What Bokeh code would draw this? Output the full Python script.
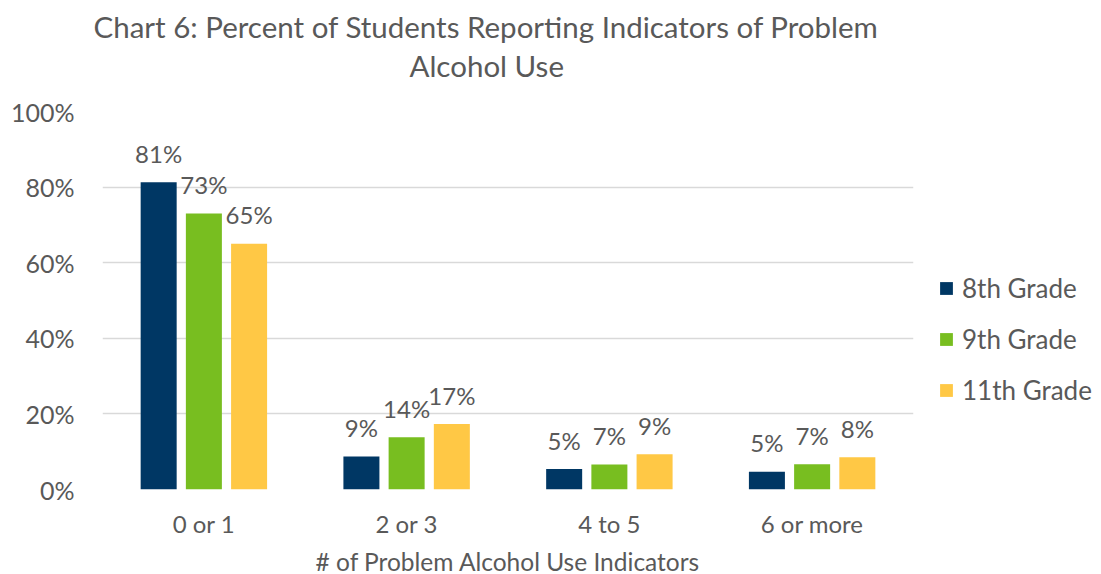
from bokeh.plotting import figure
from bokeh.models import ColumnDataSource, FactorRange, Legend, LegendItem, Title, FixedTicker, CustomJSTickFormatter
from bokeh.transform import dodge
from bokeh.core.properties import value
from bokeh.embed import file_html
from bokeh.resources import INLINE

categories = ["0 or 1", "2 or 3", "4 to 5", "6 or more"]
series = ["8th Grade", "9th Grade", "11th Grade"]
grade8 = [81.3, 8.7, 5.4, 4.7]
grade9 = [73.0, 13.8, 6.6, 6.7]
grade11 = [65.0, 17.3, 9.3, 8.5]
y_ticks = [0, 20, 40, 60, 80, 100]
colors = ["#003764", "#78BE20", "#FFC845"]
title_lines = ["Chart 6: Percent of Students Reporting Indicators of Problem", "Alcohol Use"]
x_title = "# of Problem Alcohol Use Indicators"

FONT = "Lato"
TXT = "#595959"

src = ColumnDataSource(dict(
    cat=categories, g8=grade8, g9=grade9, g11=grade11,
    l8=[f"{round(v)}%" for v in grade8],
    l9=[f"{round(v)}%" for v in grade9],
    l11=[f"{round(v)}%" for v in grade11],
))

p = figure(frame_width=811, frame_height=378, x_range=FactorRange(*categories), y_range=(0, 100),
           output_backend="svg", toolbar_location=None, title=None,
           min_border_left=102, min_border_right=188, min_border_top=111, min_border_bottom=85)
p.outline_line_color = None
p.background_fill_color = "white"

offsets = [-0.223, 0.0, 0.223]
keys = ["g8", "g9", "g11"]
lkeys = ["l8", "l9", "l11"]
items = []
for k, lk, off, c, name in zip(keys, lkeys, offsets, colors, series):
    r = p.vbar(x=dodge("cat", off, range=p.x_range), top=k, width=0.1776, source=src,
               fill_color=c, line_color=None)
    p.text(x=dodge("cat", off, range=p.x_range), y=k, text=lk, source=src,
           text_align="center", text_baseline="alphabetic", y_offset=-29,
           text_font=value(FONT), text_font_size="24px", text_color=TXT)
    items.append(LegendItem(label=name, renderers=[r]))

p.ygrid.ticker = FixedTicker(ticks=y_ticks)
p.ygrid.grid_line_color = "#D9D9D9"
p.ygrid.grid_line_width = 1.5
p.xgrid.grid_line_color = None

p.yaxis.ticker = FixedTicker(ticks=y_ticks)
p.yaxis.formatter = CustomJSTickFormatter(code="return tick + '%'")
p.yaxis.axis_line_color = None
p.yaxis.major_tick_line_color = None
p.yaxis.minor_tick_line_color = None
p.yaxis.major_label_text_font = FONT
p.yaxis.major_label_text_font_size = "25px"
p.yaxis.major_label_text_color = TXT
p.yaxis.major_label_standoff = 22

p.xaxis.axis_line_color = None
p.xaxis.major_tick_line_color = None
p.xaxis.major_label_text_font = FONT
p.xaxis.major_label_text_font_size = "24px"
p.xaxis.major_label_text_color = TXT
p.xaxis.major_label_standoff = 13
p.xaxis.axis_label = x_title
p.xaxis.axis_label_text_font = FONT
p.xaxis.axis_label_text_font_size = "24.5px"
p.xaxis.axis_label_text_font_style = "normal"
p.xaxis.axis_label_text_color = TXT
p.xaxis.axis_label_standoff = 6

legend = Legend(items=items, location=(25, 83), orientation="vertical",
                label_text_font=FONT, label_text_font_size="26px", label_text_color=TXT,
                glyph_width=16, glyph_height=16, label_height=24, spacing=19,
                label_standoff=8, padding=0, margin=0,
                border_line_color=None, background_fill_alpha=0)
p.add_layout(legend, "right")

p.add_layout(Title(text=" ", text_font_size="10px", standoff=15), "above")
p.add_layout(Title(text=title_lines[1], align="left", offset=307, standoff=2,
                   text_font=FONT, text_font_size="29.5px", text_font_style="normal",
                   text_color=TXT), "above")
p.add_layout(Title(text=title_lines[0], align="left", offset=-9, standoff=2,
                   text_font=FONT, text_font_size="29.5px", text_font_style="normal",
                   text_color=TXT), "above")

open("out.html", "w").write(file_html(p, INLINE))
